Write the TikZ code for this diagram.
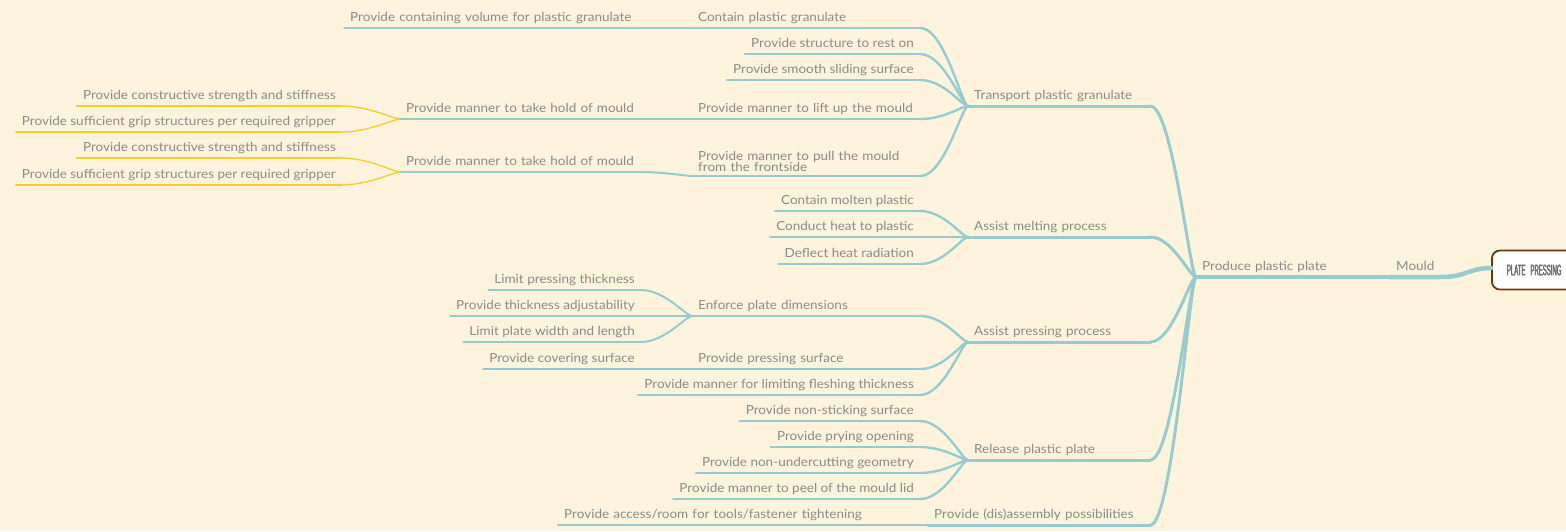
\documentclass[tikz,border=0pt]{standalone}
\usepackage{fontspec}
\setmainfont{Lato}[FakeStretch=1.08]
\newfontfamily\rootfont{Liberation Sans}[FakeStretch=0.4, FakeBold=2.5]
\usetikzlibrary{positioning}

\definecolor{paper}{RGB}{254,244,221}
\definecolor{stem}{RGB}{150,204,206}
\definecolor{gold}{RGB}{252,204,40}
\definecolor{ink}{RGB}{140,138,134}
\definecolor{bark}{RGB}{104,56,14}
\definecolor{rootink}{RGB}{112,112,112}

\begin{document}
\begin{tikzpicture}[x=1pt, y=-1pt,
  topic/.style={font=\fontsize{12.5}{11}\selectfont, text=ink, inner xsep=6pt, inner ysep=0pt,
    text height=9pt, text depth=6pt},
  leaf/.style={topic, anchor=south east},
  wide/.style={topic, anchor=south west, text width=#1, align=left},
  lvzero/.style={draw=stem, line width=3.6pt, line cap=round},
  lvone/.style={draw=stem, line width=3pt, line cap=round},
  lvtwo/.style={draw=stem, line width=2.4pt, line cap=round},
  lvthree/.style={draw=stem, line width=2pt, line cap=round},
  lvfour/.style={draw=gold, line width=1.3pt, line cap=round},
  twig/.style={out=0, in=180, out distance=#1, in distance=6pt},
  root/.style={draw=bark, line width=1.8pt, fill=white, rounded corners=8pt, minimum height=39pt,
    text width=128pt, inner xsep=15pt, align=left, anchor=west, text=rootink,
    font=\rootfont\fontsize{15}{15}\selectfont},
]
  \fill[paper] (0,0) rectangle (1566,531);
  \useasboundingbox (0,0) rectangle (1566,531);
  \clip (0,0) rectangle (1566,531);

  % central topic and main branch
  \node[root] (plp) at (1491,270) {PLATE PRESSING};
  \node[topic, anchor=south west] (mld) at (1390,277) {Mould};
  \node[wide=182pt] (ppp) at (1196,277) {Produce plastic plate};

  % main functions
  \node[wide=170pt] (tpg) at (968,106) {Transport plastic granulate};
  \node[wide=170pt] (amp) at (968,237) {Assist melting process};
  \node[wide=170pt] (app) at (968,342) {Assist pressing process};
  \node[wide=170pt] (rpp) at (968,460) {Release plastic plate};
  \node[wide=210pt] (dap) at (928,525) {Provide (dis)assembly possibilities};

  % transport plastic granulate
  \node[wide=216pt] (cpg) at (692,28) {Contain plastic granulate};
  \node[leaf] (psr) at (920,54) {Provide structure to rest on};
  \node[leaf] (pss) at (920,80) {Provide smooth sliding surface};
  \node[wide=216pt] (plm) at (692,119) {Provide manner to lift up the mould};
  \node[wide=216pt, text depth=15pt] (ppm) at (692,176) {Provide manner to pull the mould\\[-2pt]from the frontside};
  \node[wide=290pt] (pcv) at (344,28) {Provide containing volume for plastic granulate};
  \node[wide=228pt] (tha) at (400,119) {Provide manner to take hold of mould};
  \node[wide=228pt] (thb) at (400,172) {Provide manner to take hold of mould};
  \node[leaf] (csa) at (342,106) {Provide constructive strength and stiffness};
  \node[leaf] (gra) at (342,132) {Provide sufficient grip structures per required gripper};
  \node[leaf] (csb) at (342,158) {Provide constructive strength and stiffness};
  \node[leaf] (grb) at (342,185) {Provide sufficient grip structures per required gripper};

  % assist melting process
  \node[leaf] (cmp) at (920,211) {Contain molten plastic};
  \node[leaf] (chp) at (920,237) {Conduct heat to plastic};
  \node[leaf] (dhr) at (920,264) {Deflect heat radiation};

  % assist pressing process
  \node[wide=216pt] (epd) at (692,316) {Enforce plate dimensions};
  \node[leaf] (lpt) at (641,290) {Limit pressing thickness};
  \node[leaf] (pta) at (641,316) {Provide thickness adjustability};
  \node[leaf] (lwl) at (641,342) {Limit plate width and length};
  \node[wide=216pt] (pps) at (692,369) {Provide pressing surface};
  \node[leaf] (pcs) at (641,369) {Provide covering surface};
  \node[leaf] (plf) at (920,395) {Provide manner for limiting fleshing thickness};

  % release plastic plate
  \node[leaf] (pns) at (920,421) {Provide non-sticking surface};
  \node[leaf] (ppo) at (920,447) {Provide prying opening};
  \node[leaf] (png) at (920,473) {Provide non-undercutting geometry};
  \node[leaf] (ppl) at (920,499) {Provide manner to peel of the mould lid};

  % (dis)assembly
  \node[wide=350pt] (art) at (558,525) {Provide access/room for tools/fastener tightening};

  % underlines
  \draw[lvzero] (ppp.south west) -- (ppp.south east);
  \foreach \n in {tpg,amp,app,rpp,dap}
    \draw[lvone] (\n.south west) -- (\n.south east);
  \foreach \n in {cpg,psr,pss,plm,ppm,cmp,chp,dhr,epd,pps,plf,pns,ppo,png,ppl,art}
    \draw[lvtwo] (\n.south west) -- (\n.south east);
  \foreach \n in {lpt,pta,lwl,pcs}
    \draw[lvthree] (\n.south west) -- (\n.south east);
  \foreach \n in {tha,thb}
    \draw[lvthree] (\n.south west) -- (\n.south east);
  \draw[lvthree] (pcv.south west) -- (cpg.south west);
  \foreach \n in {csa,gra,csb,grb}
    \draw[lvfour] (\n.south west) -- (\n.south east);

  % connectors
  \draw[lvzero, line width=4.5pt] (mld.south west) -- (mld.south east)
    to[out=0, in=180, out distance=26pt, in distance=22pt] ([yshift=2pt]plp.west);
  \draw[lvzero] (ppp.south east) -- (mld.south west);
  \foreach \n in {tpg,amp,app,rpp,dap}
    \draw[lvone] (\n.south east) to[twig=22pt] (ppp.south west);
  \foreach \n in {cpg,psr,pss,plm,ppm}
    \draw[lvtwo] (\n.south east) to[twig=24pt] (tpg.south west);
  \foreach \n in {cmp,chp,dhr}
    \draw[lvtwo] (\n.south east) to[twig=24pt] (amp.south west);
  \foreach \n in {epd,pps,plf}
    \draw[lvtwo] (\n.south east) to[twig=24pt] (app.south west);
  \foreach \n in {pns,ppo,png,ppl}
    \draw[lvtwo] (\n.south east) to[twig=24pt] (rpp.south west);
  \draw[lvtwo] (art.south east) -- (dap.south west);
  \draw[lvthree] (tha.south east) to[twig=24pt] (plm.south west);
  \draw[lvthree] (thb.south east) to[twig=24pt] (ppm.south west);
  \foreach \n in {lpt,pta,lwl}
    \draw[lvthree] (\n.south east) to[twig=24pt] (epd.south west);
  \draw[lvthree] (pcs.south east) -- (pps.south west);
  \foreach \n in {csa,gra}
    \draw[lvfour] (\n.south east) to[twig=26pt] (tha.south west);
  \foreach \n in {csb,grb}
    \draw[lvfour] (\n.south east) to[twig=26pt] (thb.south west);
\end{tikzpicture}
\end{document}
